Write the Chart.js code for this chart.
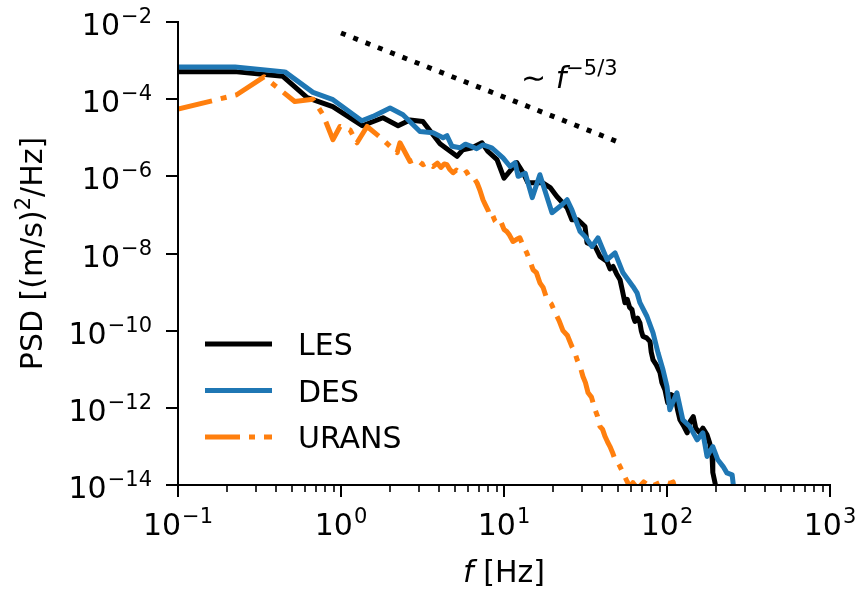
<!DOCTYPE html>
<html>
<head>
<meta charset="utf-8">
<script src="https://cdn.jsdelivr.net/npm/chart.js@4/dist/chart.umd.min.js"></script>
<style>
  html, body { margin: 0; padding: 0; background: #fff; }
  canvas { display: block; }
</style>
</head>
<body>
<canvas id="psd" width="860" height="590"></canvas>
<script>
// spectra: frequency [Hz] and PSD [(m/s)^2/Hz]
const seriesNames = ['LES', 'DES', 'URANS'];

const lesFreq = [0.1, 0.23, 0.44, 0.62, 0.89, 1.35, 1.81, 2.24, 2.65, 3.18, 4.05, 5.15, 5.6, 6.37, 7.33, 7.98, 9.06, 10.0, 12.0, 13.1, 14.0, 17.3, 19.2, 21.1, 24.4, 26.1, 28.4, 31.4, 32.3, 36.2, 38.8, 42.9, 44.7, 46.7, 49.0, 51.5, 53.0, 55.2, 57.0, 59.0, 61.0, 62.3, 63.6, 66.0, 68.2, 69.5, 71.2, 75.0, 78.7, 80.0, 82.1, 86.0, 90.6, 93.0, 97.2, 99.0, 101, 106, 112, 116, 120, 126, 133, 139, 145, 150, 159, 166, 176, 183, 189, 191, 197, 205];
const lesPsd = [5.1e-4, 5.1e-4, 3.9e-4, 1.1e-4, 6.4e-5, 2.05e-5, 3.3e-5, 2.05e-5, 2.9e-5, 2.65e-5, 7.0e-6, 3.3e-6, 4.9e-6, 5.5e-6, 7.4e-6, 4.4e-6, 2.7e-6, 9.0e-7, 2.25e-6, 1.24e-6, 6.8e-7, 6.8e-7, 5.1e-7, 3.0e-7, 1.53e-7, 7.5e-8, 7.5e-8, 5.0e-8, 1.9e-8, 1.52e-8, 8.4e-9, 6.2e-9, 4.0e-9, 4.6e-9, 3.0e-9, 2.1e-9, 1.2e-9, 5.3e-10, 6.5e-10, 4.0e-10, 3.5e-10, 2.2e-10, 1.73e-10, 2.1e-10, 1.6e-10, 1.0e-10, 7.1e-11, 6.5e-11, 5.2e-11, 2.8e-11, 1.75e-11, 1.3e-11, 8.1e-12, 4.5e-12, 2.9e-12, 2.0e-12, 1.35e-12, 2.2e-12, 1.96e-12, 9e-13, 4.9e-13, 3.5e-13, 2.25e-13, 4.5e-13, 5.9e-13, 3.0e-13, 2.25e-13, 3.0e-13, 2.0e-13, 1.2e-13, 5.5e-14, 2.1e-14, 1.14e-14, 5e-15];

const desFreq = [0.1, 0.224, 0.453, 0.673, 0.893, 1.34, 1.57, 2.0, 2.4, 3.05, 3.67, 4.23, 4.47, 4.8, 5.37, 5.8, 6.18, 6.8, 7.43, 8.41, 9.86, 10.9, 11.7, 12.2, 13.5, 14.9, 16.6, 19.7, 22.7, 24.4, 26.1, 29.3, 31.4, 34.7, 37.7, 42.9, 48.0, 53.7, 61.8, 65.5, 68.2, 75.4, 82.1, 88.1, 94.5, 100, 104, 115, 125, 138, 153, 166, 176, 191, 205, 221, 233, 251, 256];
const desPsd = [6.8e-4, 6.8e-4, 5.1e-4, 1.5e-4, 9.7e-5, 2.76e-5, 3.57e-5, 5.9e-5, 3.95e-5, 1.46e-5, 1.35e-5, 1.0e-5, 1.13e-5, 6.0e-6, 5.5e-6, 6.8e-6, 6.2e-6, 5.2e-6, 6.5e-6, 5.5e-6, 3.0e-6, 1.8e-6, 2.25e-6, 1.0e-6, 1.2e-6, 2.8e-7, 1.1e-6, 1.14e-7, 1.83e-7, 2.47e-7, 1.36e-7, 3.7e-8, 2.76e-8, 1.52e-8, 2.55e-8, 6.9e-9, 1.04e-8, 3.16e-9, 1.4e-9, 9.6e-10, 5.3e-10, 2.33e-10, 8.8e-11, 2.67e-11, 9.7e-12, 3.56e-12, 8.9e-13, 2.45e-12, 4.9e-13, 3.27e-13, 1.48e-13, 2.25e-13, 5.5e-14, 9.9e-14, 4.5e-14, 3.0e-14, 2.06e-14, 1.83e-14, 9e-15];

const uransFreq = [0.1, 0.229, 0.337, 0.52, 0.673, 0.776, 0.893, 0.986, 1.135, 1.254, 1.445, 1.663, 1.81, 2.0, 2.21, 2.3, 2.65, 2.9, 3.18, 3.4, 3.67, 3.9, 4.1, 4.3, 4.47, 4.65, 4.87, 5.1, 5.37, 5.6, 5.9, 6.1, 6.37, 6.6, 6.83, 7.1, 7.43, 7.7, 8.0, 8.2, 8.5, 8.8, 9.19, 9.6, 10.0, 10.4, 10.8, 11.35, 11.9, 12.5, 13.1, 13.8, 14.4, 15.1, 15.8, 16.6, 17.4, 18.4, 19.5, 20.6, 21.8, 23.0, 24.5, 26.1, 27.0, 28.1, 29.3, 30.5, 31.6, 32.8, 34.4, 36.2, 37.5, 38.8, 40.2, 41.7, 43.2, 44.7, 46.3, 48.0, 49.7, 51.5, 53.7, 56.9, 59.3, 61.8, 66.0, 72.0, 79.0, 94.5, 104, 109, 112];
const uransPsd = [5.5e-5, 1.3e-4, 3.8e-4, 8.7e-5, 1.0e-4, 3.95e-5, 8.9e-6, 1.96e-5, 1.61e-5, 7.4e-6, 1.96e-5, 1.2e-5, 8.9e-6, 6.0e-6, 4.1e-6, 7.4e-6, 2.43e-6, 2.8e-6, 2.0e-6, 2.3e-6, 1.8e-6, 2.2e-6, 1.7e-6, 2.1e-6, 2.0e-6, 1.5e-6, 1.24e-6, 1.45e-6, 1.24e-6, 1.1e-6, 1.3e-6, 1.0e-6, 9.9e-7, 8.5e-7, 6.8e-7, 4.5e-7, 2.47e-7, 1.8e-7, 1.3e-7, 9.1e-8, 1.0e-7, 7.0e-8, 5.6e-8, 6.5e-8, 4.2e-8, 3.7e-8, 3.0e-8, 2.05e-8, 2.3e-8, 2.55e-8, 1.6e-8, 1.04e-8, 6.5e-9, 3.78e-9, 3.2e-9, 1.74e-9, 1.3e-9, 6.3e-10, 5.0e-10, 2.9e-10, 1.8e-10, 1.0e-10, 7.5e-11, 3.9e-11, 3.0e-11, 1.75e-11, 1.2e-11, 6.5e-12, 4.5e-12, 2.45e-12, 1.9e-12, 8.9e-13, 6.0e-13, 3.27e-13, 2.8e-13, 1.8e-13, 1.3e-13, 9.9e-14, 7.0e-14, 4.5e-14, 4.0e-14, 3.0e-14, 2.06e-14, 1.23e-14, 9e-15, 1.15e-14, 8e-15, 1.2e-14, 9e-15, 1.25e-14, 1.1e-14, 1.2e-14, 8e-15];

// -5/3 reference slope
const slopeFreq = [1, 50];
const slopePsd = [5.2e-3, 7.8e-6];

// decade exponents for the tick labels
const xTickExp = [-1, 0, 1, 2, 3];
const yTickExp = [-2, -4, -6, -8, -10, -12, -14];

const FONT = '"DejaVu Sans"';
const colors = ['#000000', '#1f77b4', '#ff7f0e'];
const dashes = [[], [], [35, 9, 6, 9]];

const toPoints = (fs, ps) => fs.map((f, i) => ({ x: f, y: ps[i] }));

function supText(exp) {
  return exp < 0 ? '\u2212' + (-exp) : String(exp);
}

// "10" with a raised exponent, anchored centre or right
function drawPower(ctx, exp, x, baseline, align) {
  const sup = supText(exp);
  ctx.font = '30px ' + FONT;
  const wb = ctx.measureText('10').width;
  ctx.font = '21px ' + FONT;
  const ws = ctx.measureText(sup).width;
  const total = wb + ws + 1;
  const left = align === 'right' ? x - total : x - total / 2;
  ctx.font = '30px ' + FONT;
  ctx.fillText('10', left, baseline);
  ctx.font = '21px ' + FONT;
  ctx.fillText(sup, left + wb + 1, baseline - 12);
}

// draw a run of [text, font, raise] pieces starting at x
function drawRuns(ctx, runs, x, baseline) {
  let cx = x;
  runs.forEach(([t, f, r]) => {
    ctx.font = f;
    ctx.fillText(t, cx, baseline - r);
    cx += ctx.measureText(t).width;
  });
  return cx;
}
function runsWidth(ctx, runs) {
  let w = 0;
  runs.forEach(([t, f]) => { ctx.font = f; w += ctx.measureText(t).width; });
  return w;
}

const axesPlugin = {
  id: 'axesPlugin',
  afterDraw(chart) {
    const { ctx, chartArea: a, scales: { x, y } } = chart;
    ctx.save();
    ctx.strokeStyle = '#000';
    ctx.fillStyle = '#000';
    ctx.textAlign = 'left';
    ctx.textBaseline = 'alphabetic';

    // left and bottom spines
    ctx.lineWidth = 2;
    ctx.lineCap = 'square';
    ctx.beginPath();
    ctx.moveTo(a.left, a.top);
    ctx.lineTo(a.left, a.bottom);
    ctx.lineTo(a.right, a.bottom);
    ctx.stroke();
    ctx.lineCap = 'butt';

    // x ticks
    xTickExp.forEach((e, i) => {
      const px = Math.round(x.getPixelForValue(Math.pow(10, e)));
      ctx.lineWidth = 2;
      ctx.beginPath();
      ctx.moveTo(px, a.bottom);
      ctx.lineTo(px, a.bottom + 12);
      ctx.stroke();
      drawPower(ctx, e, px, a.bottom + 50, 'center');
      if (i < xTickExp.length - 1) {
        ctx.lineWidth = 1.6;
        for (let m = 2; m <= 9; m++) {
          const mx = Math.round(x.getPixelForValue(m * Math.pow(10, e)));
          ctx.beginPath();
          ctx.moveTo(mx, a.bottom);
          ctx.lineTo(mx, a.bottom + 7);
          ctx.stroke();
        }
      }
    });

    // y ticks
    yTickExp.forEach(e => {
      const py = Math.round(y.getPixelForValue(Math.pow(10, e)));
      ctx.lineWidth = 2;
      ctx.beginPath();
      ctx.moveTo(a.left, py);
      ctx.lineTo(a.left - 12, py);
      ctx.stroke();
      drawPower(ctx, e, a.left - 26, py + 13, 'right');
    });

    // axis titles
    const xRuns = [['f', 'italic 30px ' + FONT, 0], [' [Hz]', '30px ' + FONT, 0]];
    drawRuns(ctx, xRuns, (a.left + a.right) / 2 - runsWidth(ctx, xRuns) / 2, 582);

    const yRuns = [['PSD [(m/s)', '30px ' + FONT, 0], ['2', '21px ' + FONT, 12], ['/Hz]', '30px ' + FONT, 0]];
    ctx.save();
    ctx.translate(42, (a.top + a.bottom) / 2);
    ctx.rotate(-Math.PI / 2);
    drawRuns(ctx, yRuns, -runsWidth(ctx, yRuns) / 2, 0);
    ctx.restore();

    // slope annotation
    drawRuns(ctx, [['\u223C ', '30px ' + FONT, 0], ['f', 'italic 30px ' + FONT, 0], ['\u22125/3', '21px ' + FONT, 13]], 521, 88);

    // legend
    seriesNames.forEach((name, i) => {
      const ly = 344 + i * 46.5;
      ctx.strokeStyle = colors[i];
      ctx.lineWidth = 5;
      ctx.setLineDash(dashes[i]);
      ctx.beginPath();
      ctx.moveTo(205, ly);
      ctx.lineTo(272, ly);
      ctx.stroke();
      ctx.setLineDash([]);
      ctx.font = '30px ' + FONT;
      ctx.fillText(name, 298, ly + 11);
    });

    ctx.restore();
  }
};

const seriesData = [
  toPoints(lesFreq, lesPsd),
  toPoints(desFreq, desPsd),
  toPoints(uransFreq, uransPsd)
];

const datasets = seriesNames.map((name, i) => ({
  label: name,
  data: seriesData[i],
  borderColor: colors[i],
  borderWidth: 5,
  borderDash: dashes[i],
  borderCapStyle: 'butt',
  borderJoinStyle: 'round',
  order: 3 - i,
  clip: 0
}));

datasets.push({
  label: 'slope',
  data: toPoints(slopeFreq, slopePsd),
  borderColor: '#000',
  borderWidth: 5,
  borderDash: [5, 8.2],
  borderCapStyle: 'butt',
  order: 0,
  clip: 0
});

new Chart(document.getElementById('psd').getContext('2d'), {
  type: 'line',
  data: { datasets },
  options: {
    responsive: false,
    animation: false,
    events: [],
    layout: { padding: { left: 178, right: 30, top: 22, bottom: 105 } },
    elements: { point: { radius: 0 }, line: { tension: 0 } },
    plugins: {
      legend: { display: false },
      tooltip: { enabled: false }
    },
    scales: {
      x: { type: 'logarithmic', min: 0.1, max: 1000, display: false },
      y: { type: 'logarithmic', min: 1e-14, max: 1e-2, display: false }
    }
  },
  plugins: [axesPlugin]
});
</script>
</body>
</html>
